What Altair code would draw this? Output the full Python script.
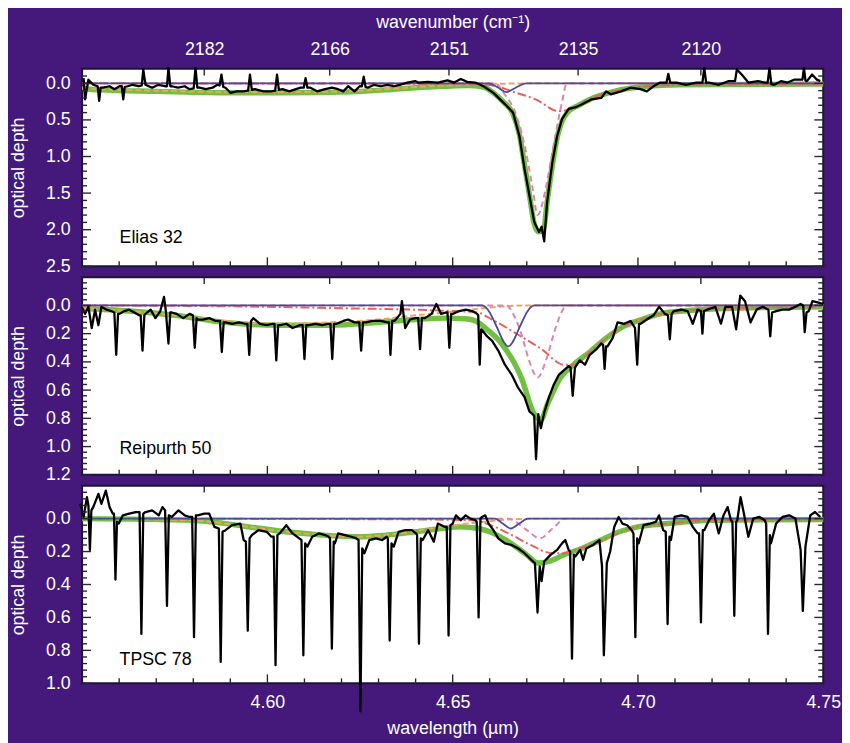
import altair as alt
import pandas as pd

# ---------------- data ----------------
WAVENUMBERS = [2182, 2166, 2151, 2135, 2120]
WL_LABELS = [4.60, 4.65, 4.70, 4.75]
WL_MAJOR_TICKS = [4.60, 4.65, 4.70]
WL_MINOR = [4.56, 4.57, 4.58, 4.59, 4.61, 4.62, 4.63, 4.64, 4.66, 4.67, 4.68, 4.69, 4.71, 4.72, 4.73, 4.74]

E32_YMAJ = [0.0, 0.5, 1.0, 1.5, 2.0, 2.5]
E32_YMIN = [-0.1, 0.1, 0.2, 0.3, 0.4, 0.6, 0.7, 0.8, 0.9, 1.1, 1.2, 1.3, 1.4, 1.6, 1.7, 1.8, 1.9, 2.1, 2.2, 2.3, 2.4]
R50_YMAJ = [0.0, 0.2, 0.4, 0.6, 0.8, 1.0, 1.2]
R50_YMIN = [-0.16, -0.12, -0.08, -0.04, 0.04, 0.08, 0.12, 0.16, 0.24, 0.28, 0.32, 0.36, 0.44, 0.48, 0.52, 0.56,
            0.64, 0.68, 0.72, 0.76, 0.84, 0.88, 0.92, 0.96, 1.04, 1.08, 1.12, 1.16]
T78_YMAJ = [0.0, 0.2, 0.4, 0.6, 0.8, 1.0]
T78_YMIN = [-0.16, -0.12, -0.08, -0.04, 0.04, 0.08, 0.12, 0.16, 0.24, 0.28, 0.32, 0.36, 0.44, 0.48, 0.52, 0.56,
            0.64, 0.68, 0.72, 0.76, 0.84, 0.88, 0.92, 0.96]

# Elias 32
E32_SPEC = [(4.5504, -0.07), (4.5508, 0.22), (4.5517, -0.05), (4.5530, 0.02), (4.5542, 0.04), (4.5546, 0.24),
            (4.5550, 0.06), (4.5556, 0.06), (4.5574, 0.04), (4.5587, 0.08), (4.5601, 0.04), (4.5607, 0.04),
            (4.5611, 0.22), (4.5615, 0.05), (4.5623, 0.04), (4.5636, 0.02), (4.5653, 0.04), (4.5661, 0.03),
            (4.5665, -0.19), (4.5671, 0.02), (4.5689, 0.06), (4.5706, 0.02), (4.5724, 0.04), (4.5729, 0.04),
            (4.5733, -0.21), (4.5738, 0.04), (4.5742, 0.04), (4.5759, 0.06), (4.5777, 0.04), (4.5790, 0.08),
            (4.5801, 0.07), (4.5806, -0.21), (4.5811, 0.06), (4.5817, 0.06), (4.5834, 0.08), (4.5852, 0.06),
            (4.5865, 0.02), (4.5871, 0.03), (4.5876, -0.12), (4.5881, 0.05), (4.5887, 0.06), (4.5900, 0.13),
            (4.5918, 0.11), (4.5936, 0.11), (4.5948, 0.10), (4.5953, -0.12), (4.5958, 0.09), (4.5966, 0.08),
            (4.5989, 0.11), (4.6011, 0.11), (4.6021, 0.10), (4.6026, -0.12), (4.6031, 0.09), (4.6041, 0.08),
            (4.6059, 0.11), (4.6077, 0.08), (4.6090, 0.06), (4.6098, 0.06), (4.6103, -0.07), (4.6108, 0.06),
            (4.6116, 0.06), (4.6134, 0.11), (4.6156, 0.08), (4.6174, 0.06), (4.6191, 0.08), (4.6205, 0.11),
            (4.6218, 0.04), (4.6235, 0.11), (4.6249, 0.04), (4.6255, 0.04), (4.6260, -0.09), (4.6265, 0.05),
            (4.6271, 0.06), (4.6288, 0.02), (4.6306, 0.04), (4.6324, 0.02), (4.6341, 0.04), (4.6359, 0.02),
            (4.6377, -0.01), (4.6399, -0.03), (4.6407, -0.01), (4.6433, -0.02), (4.6460, -0.01), (4.6486, -0.04),
            (4.6504, -0.01), (4.6522, -0.06), (4.6539, -0.02), (4.6561, -0.01), (4.6583, 0.04), (4.6610, 0.13),
            (4.6636, 0.26), (4.6663, 0.40), (4.6680, 0.72), (4.6694, 1.17), (4.6707, 1.53), (4.6720, 1.89),
            (4.6733, 2.03), (4.6740, 1.96), (4.6747, 2.16), (4.6755, 1.62), (4.6769, 1.08), (4.6782, 0.72),
            (4.6795, 0.49), (4.6813, 0.35), (4.6830, 0.33), (4.6848, 0.29), (4.6874, 0.22), (4.6901, 0.20),
            (4.6914, 0.11), (4.6927, 0.15), (4.6954, 0.11), (4.6980, 0.06), (4.7007, 0.08), (4.7024, 0.11),
            (4.7042, 0.04), (4.7060, -0.01), (4.7077, -0.01), (4.7082, -0.13), (4.7087, -0.01), (4.7104, -0.01),
            (4.7130, 0.02), (4.7157, -0.01), (4.7174, -0.01), (4.7179, -0.21), (4.7184, -0.01), (4.7192, -0.01),
            (4.7218, 0.02), (4.7245, -0.03), (4.7262, -0.03), (4.7267, -0.19), (4.7280, -0.12), (4.7298, -0.01),
            (4.7324, -0.03), (4.7342, -0.01), (4.7350, -0.01), (4.7355, -0.21), (4.7360, 0.01), (4.7368, 0.02),
            (4.7386, -0.03), (4.7404, -0.01), (4.7421, -0.05), (4.7439, -0.05), (4.7444, -0.05), (4.7448, -0.21),
            (4.7452, -0.04), (4.7456, -0.03), (4.7470, -0.12), (4.7483, -0.05), (4.7492, -0.03)]
E32_FIT = [(4.550, 0.07), (4.555, 0.09), (4.570, 0.11), (4.590, 0.13), (4.605, 0.13), (4.620, 0.12), (4.632, 0.09),
           (4.640, 0.06), (4.648, 0.04), (4.654, 0.03), (4.6583, 0.05), (4.6610, 0.13), (4.6636, 0.25),
           (4.6663, 0.42), (4.6680, 0.70), (4.6694, 1.12), (4.6707, 1.52), (4.6720, 1.92), (4.6732, 2.03),
           (4.6745, 2.00), (4.6755, 1.62), (4.6769, 1.12), (4.6782, 0.74), (4.6795, 0.52), (4.6813, 0.38),
           (4.6840, 0.30), (4.6870, 0.22), (4.6936, 0.11), (4.7024, 0.04), (4.7112, 0.02), (4.750, 0.01)]
E32_BROAD = [(4.550, 0.06), (4.555, 0.08), (4.570, 0.10), (4.590, 0.12), (4.605, 0.12), (4.620, 0.11), (4.632, 0.08),
             (4.640, 0.05), (4.648, 0.03), (4.656, 0.015), (4.664, 0.005), (4.672, 0.0), (4.750, 0.0)]
E32_RED = [(4.550, 0.0), (4.640, 0.005), (4.6592, 0.02), (4.6672, 0.13), (4.6724, 0.22), (4.6786, 0.38),
           (4.6821, 0.35), (4.6866, 0.22), (4.6936, 0.11), (4.7024, 0.04), (4.7112, 0.02), (4.750, 0.01)]
E32_PINK = [(4.550, 0.0), (4.6614, 0.0), (4.6640, 0.15), (4.6672, 0.44), (4.6698, 0.94), (4.6716, 1.44),
            (4.6729, 1.80), (4.6751, 1.44), (4.6769, 0.94), (4.6795, 0.26), (4.6808, 0.0), (4.750, 0.0)]
E32_BLUE = [(4.550, 0.0), (4.6597, 0.0), (4.6620, 0.05), (4.6645, 0.12), (4.6670, 0.06), (4.6698, 0.0), (4.750, 0.0)]

# Reipurth 50
R50_SPEC = [(4.5499, 0.01), (4.5508, 0.06), (4.5517, 0.01), (4.5526, 0.16), (4.5535, 0.03), (4.5544, 0.14),
            (4.5552, 0.01), (4.5566, 0.03), (4.5579, 0.04), (4.5587, 0.05), (4.5592, 0.35), (4.5597, 0.06),
            (4.5601, 0.06), (4.5614, 0.04), (4.5627, 0.03), (4.5641, 0.05), (4.5654, 0.07), (4.5658, 0.07),
            (4.5663, 0.32), (4.5668, 0.07), (4.5671, 0.06), (4.5685, 0.03), (4.5698, 0.09), (4.5711, 0.04),
            (4.5721, -0.06), (4.5726, 0.04), (4.5733, 0.27), (4.5738, 0.05), (4.5742, 0.05), (4.5755, 0.06),
            (4.5773, 0.09), (4.5790, 0.06), (4.5799, 0.07), (4.5804, 0.30), (4.5809, 0.09), (4.5812, 0.10),
            (4.5826, 0.10), (4.5843, 0.09), (4.5861, 0.11), (4.5872, 0.11), (4.5877, 0.33), (4.5882, 0.12),
            (4.5887, 0.12), (4.5905, 0.13), (4.5923, 0.12), (4.5940, 0.13), (4.5946, 0.13), (4.5951, 0.35),
            (4.5956, 0.11), (4.5962, 0.09), (4.5980, 0.13), (4.5998, 0.14), (4.6015, 0.13), (4.6019, 0.13),
            (4.6024, 0.39), (4.6029, 0.14), (4.6035, 0.14), (4.6051, 0.13), (4.6068, 0.16), (4.6088, 0.14),
            (4.6095, 0.14), (4.6100, 0.38), (4.6105, 0.14), (4.6112, 0.14), (4.6130, 0.13), (4.6148, 0.14),
            (4.6165, 0.13), (4.6170, 0.13), (4.6175, 0.38), (4.6180, 0.13), (4.6187, 0.13), (4.6205, 0.11),
            (4.6218, 0.10), (4.6235, 0.12), (4.6248, 0.12), (4.6253, 0.32), (4.6258, 0.12), (4.6266, 0.12),
            (4.6284, 0.11), (4.6306, 0.11), (4.6324, 0.12), (4.6328, 0.12), (4.6332, 0.35), (4.6337, 0.11),
            (4.6343, 0.11), (4.6359, 0.06), (4.6363, -0.03), (4.6372, 0.16), (4.6385, 0.10), (4.6399, 0.09),
            (4.6407, 0.09), (4.6412, 0.31), (4.6417, 0.09), (4.6425, 0.09), (4.6443, 0.06), (4.6456, -0.01),
            (4.6469, 0.06), (4.6482, 0.05), (4.6486, 0.05), (4.6491, 0.30), (4.6496, 0.06), (4.6500, 0.06),
            (4.6518, 0.04), (4.6535, 0.03), (4.6553, 0.04), (4.6566, 0.06), (4.6569, 0.07), (4.6573, 0.42),
            (4.6577, 0.17), (4.6581, 0.18), (4.6593, 0.22), (4.6606, 0.25), (4.6623, 0.32), (4.6641, 0.42),
            (4.6659, 0.49), (4.6676, 0.58), (4.6694, 0.65), (4.6707, 0.75), (4.6720, 0.78), (4.6725, 1.09),
            (4.6731, 0.77), (4.6738, 0.87), (4.6747, 0.76), (4.6760, 0.65), (4.6773, 0.56), (4.6787, 0.49),
            (4.6800, 0.46), (4.6813, 0.43), (4.6818, 0.44), (4.6824, 0.64), (4.6830, 0.44), (4.6843, 0.39),
            (4.6857, 0.42), (4.6870, 0.35), (4.6888, 0.31), (4.6901, 0.27), (4.6906, 0.28), (4.6910, 0.45),
            (4.6914, 0.29), (4.6918, 0.29), (4.6932, 0.23), (4.6945, 0.12), (4.6963, 0.13), (4.6980, 0.11),
            (4.6992, 0.16), (4.6998, 0.42), (4.7003, 0.13), (4.7007, 0.13), (4.7024, 0.10), (4.7042, 0.07),
            (4.7057, 0.01), (4.7073, 0.06), (4.7081, 0.07), (4.7086, 0.24), (4.7091, 0.06), (4.7097, 0.04),
            (4.7117, 0.03), (4.7134, 0.04), (4.7148, 0.13), (4.7161, 0.03), (4.7170, 0.04), (4.7174, 0.20),
            (4.7178, 0.04), (4.7187, 0.03), (4.7209, 0.01), (4.7224, 0.13), (4.7236, 0.01), (4.7254, 0.01),
            (4.7265, 0.17), (4.7276, -0.07), (4.7289, -0.03), (4.7304, 0.12), (4.7320, 0.03), (4.7337, 0.01),
            (4.7352, 0.03), (4.7357, 0.22), (4.7362, 0.05), (4.7373, 0.04), (4.7390, 0.03), (4.7408, 0.03),
            (4.7425, 0.01), (4.7439, -0.01), (4.7446, 0.00), (4.7450, 0.19), (4.7455, 0.05), (4.7461, 0.04),
            (4.7471, -0.03), (4.7487, -0.02), (4.7500, -0.01)]
R50_FIT = [(4.550, 0.02), (4.5627, 0.04), (4.575, 0.07), (4.5885, 0.12), (4.6024, 0.14), (4.617, 0.14), (4.630, 0.12),
           (4.640, 0.10), (4.648, 0.09), (4.6535, 0.095), (4.6562, 0.11), (4.6588, 0.16), (4.6632, 0.27),
           (4.6685, 0.51), (4.6720, 0.77), (4.6738, 0.81), (4.6756, 0.70), (4.6791, 0.51), (4.6826, 0.42),
           (4.6870, 0.33), (4.6910, 0.24), (4.6960, 0.15), (4.7010, 0.10), (4.7060, 0.06), (4.7120, 0.04),
           (4.7250, 0.02), (4.7500, 0.01)]
R50_BROAD = [(4.550, 0.02), (4.5627, 0.04), (4.575, 0.07), (4.5885, 0.11), (4.6024, 0.13), (4.617, 0.12),
             (4.630, 0.10), (4.640, 0.07), (4.648, 0.05), (4.655, 0.03), (4.662, 0.01), (4.670, 0.0), (4.750, 0.0)]
R50_RED = [(4.550, 0.0), (4.600, 0.01), (4.620, 0.02), (4.645, 0.035), (4.6566, 0.05), (4.6606, 0.10),
           (4.6672, 0.20), (4.6740, 0.31), (4.6800, 0.42), (4.6826, 0.42), (4.6870, 0.33), (4.6910, 0.24),
           (4.6960, 0.15), (4.7010, 0.10), (4.7060, 0.06), (4.7120, 0.04), (4.7250, 0.02), (4.750, 0.01)]
R50_PINK = [(4.550, 0.0), (4.6645, 0.0), (4.6665, 0.07), (4.6685, 0.20), (4.6705, 0.38), (4.6729, 0.51),
            (4.6753, 0.38), (4.6773, 0.20), (4.6790, 0.07), (4.6809, 0.0), (4.750, 0.0)]
R50_BLUE = [(4.550, 0.0), (4.6579, 0.0), (4.6600, 0.05), (4.6615, 0.13), (4.6650, 0.29), (4.6685, 0.13),
            (4.6700, 0.05), (4.6720, 0.0), (4.750, 0.0)]

# TPSC 78
T78_SPEC = [(4.5495, -0.09), (4.5504, -0.01), (4.5513, -0.13), (4.5517, -0.08), (4.5521, 0.19), (4.5525, -0.05),
            (4.5530, -0.07), (4.5544, -0.15), (4.5552, -0.09), (4.5564, -0.17), (4.5574, -0.07), (4.5583, -0.03),
            (4.5586, -0.03), (4.5590, 0.37), (4.5594, 0.02), (4.5599, 0.03), (4.5610, -0.02), (4.5627, -0.03),
            (4.5645, -0.04), (4.5655, -0.04), (4.5660, 0.70), (4.5665, -0.03), (4.5671, -0.04), (4.5689, -0.05),
            (4.5707, -0.02), (4.5717, -0.07), (4.5724, -0.05), (4.5729, 0.53), (4.5734, -0.02), (4.5742, -0.01),
            (4.5760, -0.05), (4.5777, -0.02), (4.5790, -0.01), (4.5797, -0.01), (4.5802, 0.72), (4.5807, -0.02),
            (4.5812, -0.02), (4.5830, -0.03), (4.5843, -0.03), (4.5857, 0.05), (4.5869, 0.06), (4.5874, 0.87),
            (4.5879, 0.08), (4.5887, 0.07), (4.5905, 0.04), (4.5927, 0.03), (4.5936, 0.13), (4.5942, 0.14),
            (4.5947, 0.68), (4.5952, 0.12), (4.5958, 0.10), (4.5976, 0.07), (4.5998, 0.08), (4.6011, 0.11),
            (4.6017, 0.11), (4.6022, 0.89), (4.6027, 0.10), (4.6033, 0.09), (4.6051, 0.04), (4.6068, 0.09),
            (4.6086, 0.12), (4.6092, 0.13), (4.6097, 0.83), (4.6102, 0.15), (4.6108, 0.17), (4.6121, 0.11),
            (4.6139, 0.09), (4.6156, 0.10), (4.6165, 0.11), (4.6169, 0.12), (4.6174, 0.79), (4.6179, 0.14),
            (4.6182, 0.15), (4.6191, 0.09), (4.6209, 0.10), (4.6227, 0.11), (4.6240, 0.12), (4.6246, 0.13),
            (4.6251, 1.17), (4.6256, 0.18), (4.6262, 0.21), (4.6275, 0.13), (4.6293, 0.12), (4.6310, 0.13),
            (4.6322, 0.11), (4.6325, 0.12), (4.6330, 0.74), (4.6335, 0.15), (4.6341, 0.17), (4.6354, 0.08),
            (4.6372, 0.07), (4.6390, 0.07), (4.6401, 0.09), (4.6404, 0.10), (4.6409, 0.76), (4.6414, 0.12),
            (4.6419, 0.13), (4.6434, 0.07), (4.6449, 0.14), (4.6460, 0.03), (4.6478, 0.05), (4.6484, 0.05),
            (4.6489, 0.71), (4.6494, 0.04), (4.6500, 0.03), (4.6509, -0.02), (4.6522, 0.01), (4.6535, -0.02),
            (4.6548, 0.00), (4.6562, 0.01), (4.6565, 0.02), (4.6570, 0.60), (4.6575, 0.00), (4.6579, -0.01),
            (4.6588, -0.02), (4.6597, 0.03), (4.6610, 0.07), (4.6623, 0.12), (4.6641, 0.15), (4.6659, 0.16),
            (4.6676, 0.18), (4.6694, 0.21), (4.6712, 0.25), (4.6722, 0.27), (4.6729, 0.57), (4.6735, 0.29),
            (4.6740, 0.38), (4.6747, 0.26), (4.6764, 0.22), (4.6782, 0.19), (4.6795, 0.15), (4.6804, 0.13),
            (4.6813, 0.19), (4.6817, 0.20), (4.6822, 0.85), (4.6827, 0.22), (4.6831, 0.23), (4.6844, 0.19),
            (4.6852, 0.25), (4.6861, 0.18), (4.6879, 0.16), (4.6896, 0.13), (4.6903, 0.29), (4.6908, 0.83),
            (4.6916, 0.27), (4.6925, 0.20), (4.6936, 0.05), (4.6948, -0.01), (4.6958, 0.03), (4.6971, 0.04),
            (4.6983, 0.07), (4.6988, 0.09), (4.6993, 0.72), (4.6998, 0.12), (4.7002, 0.15), (4.7015, 0.04),
            (4.7033, 0.03), (4.7048, 0.02), (4.7057, -0.02), (4.7068, 0.07), (4.7075, 0.08), (4.7080, 0.64),
            (4.7085, 0.11), (4.7089, 0.13), (4.7099, -0.01), (4.7117, -0.02), (4.7134, -0.01), (4.7148, 0.05),
            (4.7161, 0.09), (4.7165, 0.09), (4.7170, 0.63), (4.7175, 0.07), (4.7179, 0.07), (4.7192, 0.01),
            (4.7205, -0.03), (4.7218, 0.09), (4.7231, -0.02), (4.7242, -0.07), (4.7251, 0.01), (4.7255, 0.02),
            (4.7260, 0.59), (4.7265, 0.02), (4.7268, 0.01), (4.7277, -0.13), (4.7286, -0.03), (4.7298, 0.11),
            (4.7311, 0.00), (4.7328, -0.01), (4.7342, 0.01), (4.7346, 0.03), (4.7351, 0.70), (4.7356, 0.10),
            (4.7359, 0.15), (4.7373, 0.03), (4.7390, -0.01), (4.7408, -0.02), (4.7425, 0.00), (4.7439, 0.19),
            (4.7445, 0.56), (4.7452, 0.17), (4.7465, -0.02), (4.7478, -0.04), (4.7492, -0.01)]
T78_FIT = [(4.550, 0.0), (4.580, 0.01), (4.585, 0.02), (4.595, 0.05), (4.605, 0.08), (4.615, 0.10), (4.625, 0.11),
           (4.632, 0.10), (4.640, 0.08), (4.647, 0.06), (4.652, 0.05), (4.657, 0.06), (4.660, 0.08), (4.665, 0.14),
           (4.670, 0.22), (4.673, 0.27), (4.676, 0.26), (4.680, 0.22), (4.685, 0.18), (4.690, 0.13), (4.695, 0.08),
           (4.700, 0.05), (4.708, 0.03), (4.720, 0.01), (4.750, 0.005)]
T78_BROAD = [(4.550, 0.0), (4.580, 0.01), (4.585, 0.02), (4.595, 0.05), (4.605, 0.08), (4.615, 0.10), (4.625, 0.11),
             (4.632, 0.10), (4.640, 0.075), (4.647, 0.05), (4.652, 0.035), (4.658, 0.02), (4.665, 0.005),
             (4.675, 0.0), (4.750, 0.0)]
T78_RED = [(4.550, 0.0), (4.640, 0.005), (4.655, 0.01), (4.6614, 0.05), (4.6660, 0.10), (4.6710, 0.16),
           (4.6770, 0.21), (4.6800, 0.21), (4.6844, 0.18), (4.6905, 0.13), (4.6994, 0.05), (4.708, 0.03),
           (4.720, 0.01), (4.750, 0.005)]
T78_PINK = [(4.550, 0.0), (4.6650, 0.0), (4.6700, 0.07), (4.6735, 0.12), (4.6770, 0.06), (4.6805, 0.0), (4.750, 0.0)]
T78_BLUE = [(4.550, 0.0), (4.6614, 0.0), (4.6635, 0.03), (4.6657, 0.06), (4.6680, 0.03), (4.6703, 0.0), (4.750, 0.0)]

# ---------------- styling ----------------
BG = "#44197b"
FONT = "Liberation Sans"
W, H = 750, 200
XDOM = [4.55, 4.75]
GREEN = "#70c043"
ORANGE = "#f2a15f"
RED = "#e9605c"
PINK = "#dc86ab"
BLUE = "#4a4c9c"
TICK = "#2a2235"


def df_of(pairs):
    return pd.DataFrame({"wl": [p[0] for p in pairs], "depth": [p[1] for p in pairs]})


def panel(name, name_pos, spec, fit, broad, red, pink, blue, ydom, ymaj, ymin, xaxis):
    xenc = alt.X("wl:Q", scale=alt.Scale(domain=XDOM, nice=False, zero=False), axis=xaxis)
    yenc = alt.Y("depth:Q", scale=alt.Scale(domain=ydom, nice=False, zero=False, reverse=True),
                 axis=alt.Axis(values=ymaj, format=".1f", title="optical depth",
                               labelPadding=12, titlePadding=18))

    def line(pairs, **kw):
        return alt.Chart(df_of(pairs)).mark_line(**kw).encode(x=xenc, y=yenc)

    layers = [
        line(fit, color=GREEN, strokeWidth=5.5, interpolate="monotone"),
        line(broad, color=ORANGE, strokeWidth=2, strokeDash=[6, 3], interpolate="monotone"),
        line(red, color=RED, strokeWidth=2, strokeDash=[9, 3, 2, 3], interpolate="monotone"),
        line(pink, color=PINK, strokeWidth=2, strokeDash=[6, 4], interpolate="monotone"),
        line(blue, color=BLUE, strokeWidth=1.8, interpolate="monotone"),
        line(spec, color="black", strokeWidth=2.3, strokeJoin="round"),
        alt.Chart(pd.DataFrame({"wl": [name_pos[0]], "depth": [name_pos[1]], "name": [name]}))
        .mark_text(align="left", baseline="middle", font=FONT, fontSize=18, color="black")
        .encode(x=xenc, y=yenc, text="name:N"),
    ]
    # inward ticks on y (left and right)
    for vals, ln in ((ymaj, 9), (ymin, 5)):
        d = pd.DataFrame({"depth": vals})
        layers.append(alt.Chart(d).mark_rule(color=TICK, strokeWidth=1.4)
                      .encode(y=yenc, x=alt.value(0), x2=alt.value(ln)))
        layers.append(alt.Chart(d).mark_rule(color=TICK, strokeWidth=1.4)
                      .encode(y=yenc, x=alt.value(W), x2=alt.value(W - ln)))
    # inward ticks on x (bottom wavelength, top wavenumber)
    for vals, ln in ((WL_MAJOR_TICKS, 9), (WL_MINOR, 5)):
        d = pd.DataFrame({"wl": vals})
        layers.append(alt.Chart(d).mark_rule(color=TICK, strokeWidth=1.4)
                      .encode(x=xenc, y=alt.value(H), y2=alt.value(H - ln)))
    d = pd.DataFrame({"wl": [10000.0 / w for w in WAVENUMBERS]})
    layers.append(alt.Chart(d).mark_rule(color=TICK, strokeWidth=1.4)
                  .encode(x=xenc, y=alt.value(0), y2=alt.value(7)))
    return alt.layer(*layers).properties(width=W, height=H)


top_axis = alt.Axis(orient="top", values=[10000.0 / w for w in WAVENUMBERS],
                    labelExpr="format(10000/datum.value, '.0f')", title="wavenumber (cm⁻¹)",
                    labelPadding=10, titlePadding=10)
bottom_axis = alt.Axis(orient="bottom", values=WL_LABELS, format=".2f", title="wavelength (µm)",
                       labelPadding=10, titlePadding=9)

p1 = panel("Elias 32", (4.5601, 2.12), E32_SPEC, E32_FIT, E32_BROAD, E32_RED, E32_PINK, E32_BLUE,
           [-0.2, 2.5], E32_YMAJ, E32_YMIN, top_axis)
p2 = panel("Reipurth 50", (4.5601, 1.02), R50_SPEC, R50_FIT, R50_BROAD, R50_RED, R50_PINK, R50_BLUE,
           [-0.2, 1.2], R50_YMAJ, R50_YMIN, None)
p3 = panel("TPSC 78", (4.5601, 0.86), T78_SPEC, T78_FIT, T78_BROAD, T78_RED, T78_PINK, T78_BLUE,
           [-0.2, 1.0], T78_YMAJ, T78_YMIN, bottom_axis)

chart = (
    alt.vconcat(p1, p2, p3, spacing=11, bounds="flush")
    .properties(background=BG, padding=0)
    .configure_view(fill="white", stroke="#1e1630", strokeWidth=2)
    .configure_axis(ticks=False, tickSize=0, domain=False, grid=False, labelColor="white", titleColor="white",
                    labelFont=FONT, titleFont=FONT, labelFontSize=18, titleFontSize=18,
                    titleFontWeight="normal", labelFlush=False)
)

chart.save("out.html", embed_options={"renderer": "svg", "actions": False})
